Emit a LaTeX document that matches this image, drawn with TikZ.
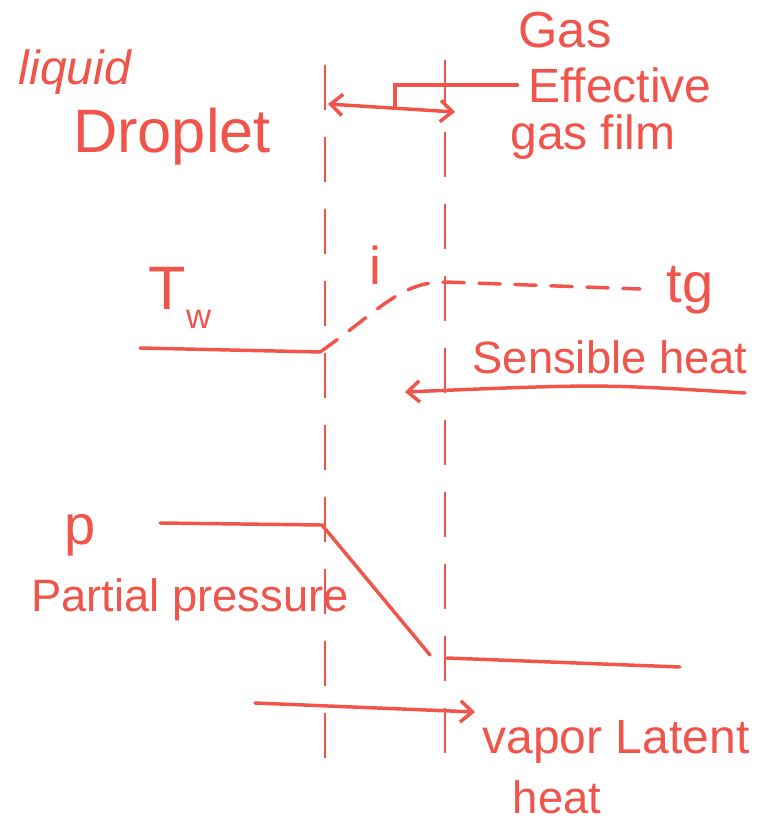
\documentclass[tikz,border=0pt]{standalone}
\usepackage{fontspec}
\setmainfont{Liberation Sans}
\usepackage{xcolor}
\usetikzlibrary{arrows.meta, positioning, calc}
\definecolor{ink}{RGB}{240,84,74}

\begin{document}
\begin{tikzpicture}[x=0.75pt, y=-0.75pt,
    every node/.style={text=ink, inner sep=0pt, font=\fontsize{34}{38}\selectfont},
    pen/.style={draw=ink, line width=2.6pt, line cap=round},
    film/.style={draw=ink, line width=1.6pt, dash pattern=on 34pt off 20pt},
    barb/.style={-{Straight Barb[length=9pt, width=16pt]}}]
    \useasboundingbox (0,0) rectangle (760,824);

    % film boundaries
    \coordinate (ltop) at (325,65);
    \coordinate (lbot) at (325,765);
    \coordinate (rtop) at (445,60);
    \coordinate (rbot) at (445,760);
    \draw[film] (ltop) -- (lbot);
    \draw[film] (rtop) -- (rbot);

    % labels
    \node (liquid) at (75,72) {\fontsize{36}{40}\selectfont\itshape liquid};
    \node (droplet) at (172,137) {\fontsize{46}{50}\selectfont Droplet};
    \node (gas) at (565,30) {\fontsize{38}{42}\selectfont Gas};
    \node (effective) at (620,85) {\fontsize{36}{40}\selectfont Effective};
    \node (gasfilm) at (593,137) {\fontsize{36}{40}\selectfont gas film};
    \node (ilabel) at (375,265) {\fontsize{40}{44}\selectfont i};
    \node (tw) at (180,298) {\fontsize{46}{50}\selectfont T\raisebox{-0.3em}{\fontsize{26}{28}\selectfont w}};
    \node (tg) at (690,290) {\fontsize{42}{46}\selectfont tg};
    \node (sensible) at (610,357) {Sensible heat};
    \node (plabel) at (80,535) {\fontsize{42}{46}\selectfont p};
    \node (partial) at (190,600) {Partial pressure};
    \node (latent) at (616,742) {\fontsize{36}{40}\selectfont vapor Latent};
    \node (heatlbl) at (557,797) {\fontsize{34}{38}\selectfont heat};

    % film thickness
    \coordinate (dl) at (328,104);
    \coordinate (dr) at (455,112);
    \coordinate (lead) at (395,108);
    \draw[pen, {Straight Barb[length=9pt, width=16pt]}-{Straight Barb[length=9pt, width=16pt]}] (dl) -- (dr);
    \draw[pen] (lead) |- ([xshift=-8pt]effective.west);

    % temperature profile
    \coordinate (twa) at (140,348);
    \coordinate (twb) at (320,352);
    \coordinate (tgi) at (445,282);
    \coordinate (tgb) at (640,289);
    \draw[pen] (twa) -- (twb);
    \draw[pen, dash pattern=on 16pt off 11pt] (twb) .. controls (380,310) and (400,282) .. (tgi) -- (tgb);

    % sensible heat
    \coordinate (sa) at (745,393);
    \coordinate (sb) at (405,392);
    \draw[pen, barb] (sa) .. controls (600,384) .. (sb);

    % partial pressure profile
    \coordinate (pa) at (160,523);
    \coordinate (pb) at (322,525);
    \coordinate (pc) at (430,655);
    \coordinate (pd) at (447,658);
    \coordinate (pe) at (680,667);
    \draw[pen] (pa) -- (pb) -- (pc);
    \draw[pen] (pd) -- (pe);

    % latent heat
    \coordinate (va) at (255,703);
    \coordinate (vb) at (475,712);
    \draw[pen, barb] (va) -- (vb);
\end{tikzpicture}
\end{document}
